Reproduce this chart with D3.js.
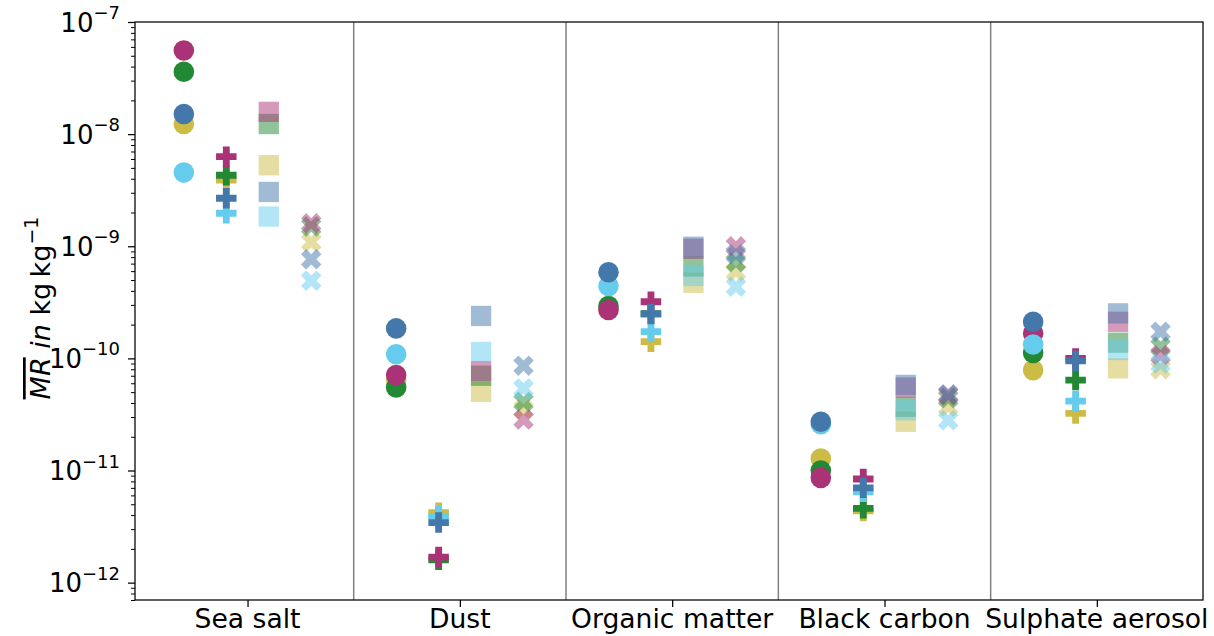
<!DOCTYPE html>
<html>
<head>
<meta charset="utf-8">
<script src="https://cdn.jsdelivr.net/npm/d3@7"></script>
<style>
  body { margin: 0; background: #fff; }
  text { font-family: "DejaVu Sans", sans-serif; fill: #000; }
</style>
</head>
<body>
<div class="chart"></div>
<script>
const categories = ['Sea salt', 'Dust', 'Organic matter', 'Black carbon', 'Sulphate aerosol'];
const markerKinds = ['circle', 'plus', 'square', 'x'];

// each series: one row per marker kind, one value per category (kg/kg)
const yellow = [
  [1.23e-8, 6.4e-11, 2.75e-10, 1.28e-11, 7.86e-11],
  [3.9e-9, 4.2e-12, 1.41e-10, 4.36e-12, 3.23e-11],
  [5.28e-9, 5.03e-11, 4.73e-10, 2.72e-11, 8.15e-11],
  [1.09e-9, 3.5e-11, 5.93e-10, 3.7e-11, 8.0e-11]
];
const green = [
  [3.6e-8, 5.5e-11, 2.93e-10, 1.0e-11, 1.12e-10],
  [4.3e-9, 1.6e-12, 2.5e-10, 4.6e-12, 6.4e-11],
  [1.23e-8, 7.0e-11, 6.6e-10, 3.7e-11, 1.38e-10],
  [1.5e-9, 4.1e-11, 7.2e-10, 4.4e-11, 1.27e-10]
];
const magenta = [
  [5.57e-8, 7.1e-11, 2.7e-10, 8.6e-12, 1.67e-10],
  [6.3e-9, 1.69e-12, 3.2e-10, 8.4e-12, 1.0e-10],
  [1.58e-8, 7.7e-11, 9.5e-10, 5.5e-11, 2.12e-10],
  [1.6e-9, 2.85e-11, 1.0e-9, 4.7e-11, 1.07e-10]
];
const cyan = [
  [4.54e-9, 1.09e-10, 4.42e-10, 2.59e-11, 1.33e-10],
  [1.97e-9, 3.9e-12, 1.73e-10, 6.45e-12, 4.16e-11],
  [1.84e-9, 1.14e-10, 5.43e-10, 3.45e-11, 1.19e-10],
  [4.93e-10, 5.4e-11, 4.36e-10, 2.8e-11, 9.0e-11]
];
const blue = [
  [1.51e-8, 1.85e-10, 5.86e-10, 2.72e-11, 2.12e-10],
  [2.68e-9, 3.43e-12, 2.49e-10, 7.0e-12, 9.5e-11],
  [3.05e-9, 2.39e-10, 9.9e-10, 5.8e-11, 2.52e-10],
  [7.65e-10, 8.6e-11, 8.5e-10, 4.8e-11, 1.73e-10]
];

const seriesValues = [yellow, green, magenta, cyan, blue];
const seriesColors = ['#CCBB44', '#228833', '#AA3377', '#66CCEE', '#4477AA'];

const width = 1214, height = 636;
const plotLeft = 135, plotRight = 1203, plotTop = 22, plotBottom = 600;

const svg = d3.select('.chart').append('svg')
  .attr('width', width)
  .attr('height', height);

const x = d3.scaleLinear().domain([-0.53, 4.5]).range([plotLeft, plotRight]);
const y = d3.scaleLog().domain([7.0e-13, 1e-7]).range([plotBottom, plotTop]);

const offsets = [-0.3, -0.1, 0.1, 0.3];
const alphas = [1, 1, 0.5, 0.5];

// separators between categories
svg.append('g')
  .selectAll('line')
  .data(d3.range(categories.length - 1))
  .join('line')
  .attr('x1', d => x(d + 0.5)).attr('x2', d => x(d + 0.5))
  .attr('y1', plotTop).attr('y2', plotBottom)
  .attr('stroke', '#808080')
  .attr('stroke-width', 1.5);

// marker shapes via d3.symbol
const symbols = {
  circle: d3.symbol(d3.symbolCircle, Math.PI * 10.3 * 10.3)(),
  plus: d3.symbol(d3.symbolCross, 5 * Math.pow(20.5 / 3, 2))(),
  square: d3.symbol(d3.symbolSquare, 20.3 * 20.3)(),
  x: d3.symbol(d3.symbolCross, 5 * Math.pow(2 * 0.53 * 20.5 / 3, 2))()
};

const points = [];
seriesValues.forEach((rows, s) => {
  rows.forEach((vals, m) => {
    vals.forEach((v, c) => {
      points.push({ series: s, kind: markerKinds[m], m: m, cat: c, value: v });
    });
  });
});

svg.append('g')
  .selectAll('path')
  .data(points)
  .join('path')
  .attr('d', d => symbols[d.kind])
  .attr('transform', d => `translate(${x(d.cat + offsets[d.m])},${y(d.value)})` + (d.kind === 'x' ? ' rotate(45)' : ''))
  .attr('fill', d => seriesColors[d.series])
  .attr('fill-opacity', d => alphas[d.m]);

// frame
svg.append('rect')
  .attr('x', plotLeft).attr('y', plotTop)
  .attr('width', plotRight - plotLeft).attr('height', plotBottom - plotTop)
  .attr('fill', 'none')
  .attr('stroke', '#000')
  .attr('stroke-width', 1.25);

// y axis: major + minor ticks
const allTicks = y.ticks();
const majors = allTicks.filter(d => Math.abs(Math.log10(d) - Math.round(Math.log10(d))) < 1e-6);
const minors = allTicks.filter(d => !majors.includes(d));

svg.append('g')
  .attr('transform', `translate(${plotLeft},0)`)
  .call(d3.axisLeft(y).tickValues(majors).tickSize(7).tickFormat(''))
  .call(g => g.select('.domain').remove())
  .call(g => g.selectAll('line').attr('stroke-width', 1.25));

svg.append('g')
  .attr('transform', `translate(${plotLeft},0)`)
  .call(d3.axisLeft(y).tickValues(minors).tickSize(4).tickFormat(''))
  .call(g => g.select('.domain').remove())
  .call(g => g.selectAll('line').attr('stroke-width', 1));

const yLabels = svg.append('g')
  .selectAll('text')
  .data(majors)
  .join('text')
  .attr('x', plotLeft - 15)
  .attr('y', d => y(d) + 9.5)
  .attr('text-anchor', 'end')
  .style('font-size', '26px');
yLabels.append('tspan').text('10');
yLabels.append('tspan')
  .attr('dy', -12.5)
  .style('font-size', '18px')
  .text(d => '\u2212' + Math.round(-Math.log10(d)));

// x axis
svg.append('g')
  .attr('transform', `translate(0,${plotBottom})`)
  .call(d3.axisBottom(x).tickValues(d3.range(categories.length)).tickSize(7).tickFormat(''))
  .call(g => g.select('.domain').remove())
  .call(g => g.selectAll('line').attr('stroke-width', 1.25));

svg.append('g')
  .selectAll('text')
  .data(categories)
  .join('text')
  .attr('x', (d, i) => x(i))
  .attr('y', 628)
  .attr('text-anchor', 'middle')
  .style('font-size', '26.6px')
  .text(d => d);

// y label
const yl = svg.append('text')
  .attr('transform', 'translate(50,308) rotate(-90)')
  .attr('text-anchor', 'middle')
  .style('font-size', '27px')
  .style('white-space', 'pre');
yl.append('tspan')
  .style('font-style', 'italic')
  .style('text-decoration', 'overline')
  .text('MR');
yl.append('tspan').style('font-style', 'italic').text(' in ');
yl.append('tspan').text('kg\u2009kg');
yl.append('tspan').attr('dy', -12).style('font-size', '19px').text('\u22121');
</script>
</body>
</html>
